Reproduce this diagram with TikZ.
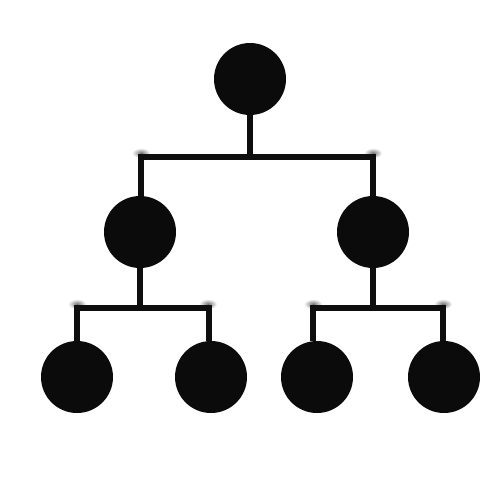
\documentclass[tikz,border=0pt]{standalone}
\begin{document}
\begin{tikzpicture}[x=1pt,y=-1pt,
  dot/.style={circle,fill=dotc,minimum size=72pt,inner sep=0pt,outer sep=0pt},
  edge/.style={draw=linec,line width=6pt,line join=miter},
  smudge/.style={inner color=black!55,outer color=white}]
\definecolor{dotc}{HTML}{0B0B0B}
\definecolor{linec}{HTML}{0E0E0E}
\useasboundingbox (0,0) rectangle (500,500);
\fill[white] (0,0) rectangle (500,500);
% smudges at bar ends
\foreach \x/\y in {141/153,373/153,77/304,208/304,313/304,443/304}
  \shade[smudge] (\x,\y) ellipse [x radius=9pt, y radius=5pt];
\node[dot] (r) at (250,79) {};
\node[dot] (a) at (140,232) {};
\node[dot] (b) at (373,232) {};
\node[dot] (a1) at (77,377) {};
\node[dot] (a2) at (211,377) {};
\node[dot] (b1) at (317,377) {};
\node[dot] (b2) at (444,377) {};
\coordinate (ba) at (0,157);
\coordinate (bb) at (0,308);
% connectors
\draw[edge] (r.south) -- (r.south|-ba);
\draw[edge] (141,0|-a.north) -- (141,157) -- (373,157) -- (b.north);
\draw[edge] (a.south) -- (a.south|-bb);
\draw[edge] (77,0|-a1.north) -- (77,308) -- (208.5,308) -- (208.5,0|-a2.north);
\draw[edge] (b.south) -- (b.south|-bb);
\draw[edge] (313,0|-b1.north) -- (313,308) -- (443,308) -- (443,0|-b2.north);
\end{tikzpicture}
\end{document}
